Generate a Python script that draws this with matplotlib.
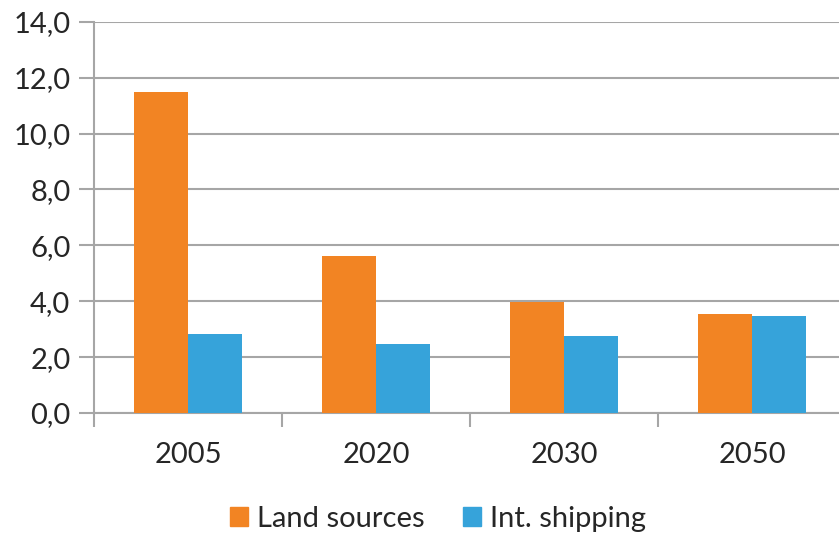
import matplotlib
matplotlib.use("Agg")
import matplotlib.pyplot as plt
import numpy as np
from matplotlib.patches import Patch

years = ["2005", "2020", "2030", "2050"]
land_sources = [11.5, 5.63, 3.96, 3.53]
int_shipping = [2.82, 2.46, 2.75, 3.48]
series_names = ["Land sources", "Int. shipping"]
y_ticks = [0, 2, 4, 6, 8, 10, 12, 14]

orange = "#F28423"
blue = "#36A3DA"
grid_c = "#A6A6A6"
text_c = "#262626"

plt.rcParams["font.family"] = ["Lato", "DejaVu Sans"]
FS = 21

W, H = 839, 535
fig = plt.figure(figsize=(W / 100, H / 100), dpi=100)
# axes spans from x=94 to x=846 px (right end runs past the canvas), y 413 -> 21.7
left, right = 94 / W, 846 / W
bottom, top = 1 - 413 / H, 1 - 21.7 / H
ax = fig.add_axes([left, bottom, right - left, top - bottom])

x = np.arange(len(years))
bw = 54 / 188
ax.bar(x - bw / 2, land_sources, width=bw, color=orange, zorder=3)
ax.bar(x + bw / 2, int_shipping, width=bw, color=blue, zorder=3)

ax.set_xlim(-0.5, len(years) - 0.5)
ax.set_ylim(0, 14)
ax.set_yticks(y_ticks)
ax.set_yticklabels([f"{v:.1f}".replace(".", ",") for v in y_ticks])
ax.yaxis.grid(True, color=grid_c, linewidth=1.5, zorder=0)
ax.set_axisbelow(True)

# category labels centred under each group, tick marks at group boundaries
ax.set_xticks(x)
ax.set_xticklabels(years)
ax.tick_params(axis="x", length=0, pad=21, labelsize=FS, labelcolor=text_c)
ax.set_xticks(np.arange(len(years)) - 0.5, minor=True)
ax.tick_params(axis="x", which="minor", length=10, width=1.5, color=grid_c, direction="out")
ax.tick_params(axis="y", length=11, width=1.5, color=grid_c, pad=6, labelsize=FS, labelcolor=text_c)

for s in ["top", "right"]:
    ax.spines[s].set_visible(False)
for s in ["left", "bottom"]:
    ax.spines[s].set_color(grid_c)
    ax.spines[s].set_linewidth(1.5)

handles = [Patch(color=orange), Patch(color=blue)]
fig.legend(handles, series_names, loc="center", bbox_to_anchor=(438 / W, 1 - 519 / H),
           ncol=2, frameon=False, fontsize=FS, handlelength=0.62, handleheight=0.62,
           handletextpad=0.3, columnspacing=1.3, labelcolor=text_c)

fig.savefig("out.png", dpi=100)
